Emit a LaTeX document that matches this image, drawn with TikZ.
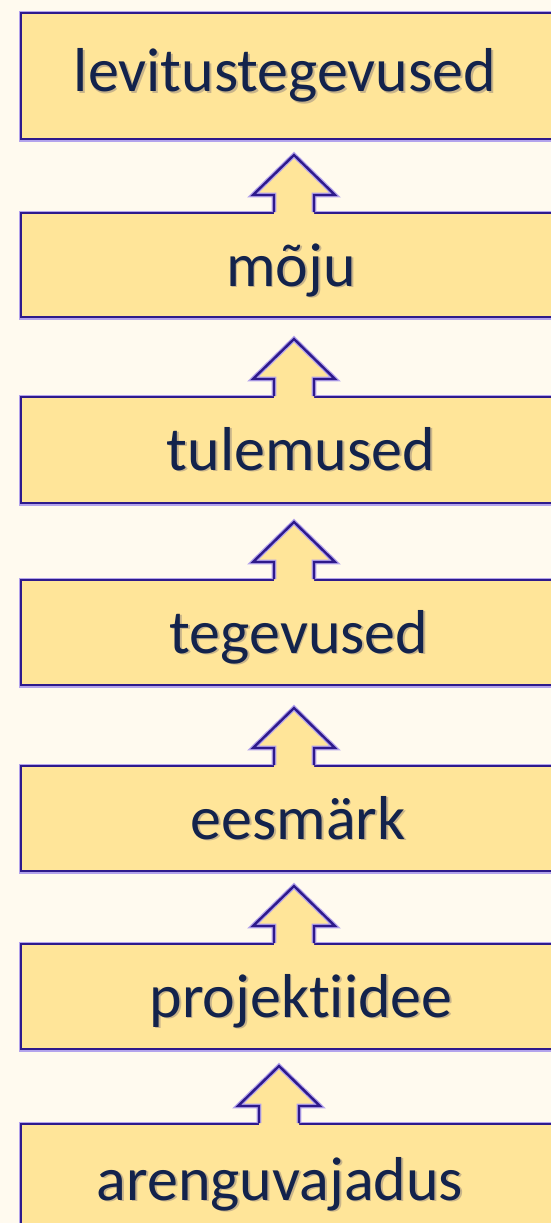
\documentclass[tikz,border=0pt]{standalone}
\usepackage{fontspec}
\setmainfont[RawFeature={-liga;-clig;-dlig}]{Carlito}
\usetikzlibrary{calc}
\definecolor{bg}{HTML}{FFFAEF}
\definecolor{boxfill}{HTML}{FFE599}
\definecolor{boxline}{HTML}{2E1A8C}
\definecolor{glow}{HTML}{B3A3EC}
\definecolor{txt}{HTML}{13234C}
\definecolor{shadowc}{HTML}{C8B48A}
\newcommand{\shtext}[1]{\makebox[0pt][l]{\kern1.8pt\raisebox{-1.8pt}{\color{shadowc}#1}}#1}
\tikzset{
  stepbox/.style={draw=boxline, line width=2.4pt, fill=boxfill, rectangle, inner sep=0pt,
    anchor=north west, minimum width=580pt, preaction={draw=glow, line width=4.8pt}},
  lbl/.style={text=txt, font=\fontsize{62}{70}\selectfont, anchor=base, inner sep=0pt},
  arrline/.style={draw=boxline, line width=2.4pt, line join=miter, preaction={draw=glow, line width=4.8pt}},
}
\newcommand{\blockarrow}[2]{%
  \fill[boxfill] ($(#1.north -| #2)+(-20,3)$) -- ++(0,-20) -- ++(-21,0) -- ++(41,-40) -- ++(41,40) -- ++(-21,0) -- ++(0,20) -- cycle;
  \draw[arrline] ($(#1.north -| #2)+(-20,0)$) -- ++(0,-17) -- ++(-21,0) -- ++(41,-40) -- ++(41,40) -- ++(-21,0) -- ++(0,17);
}
\begin{document}
\begin{tikzpicture}[x=1pt,y=-1pt]
\useasboundingbox (0,0) rectangle (551,1223);
\fill[bg] (0,0) rectangle (551,1223);
\clip (0,0) rectangle (551,1223);
\coordinate (ax) at (294,0);
\coordinate (axb) at (279,0);
\node[stepbox, minimum height=126pt] (b1) at (20,12) {};
\node[stepbox, minimum height=104pt] (b2) at (20,212) {};
\node[stepbox, minimum height=106pt] (b3) at (20,396) {};
\node[stepbox, minimum height=105pt] (b4) at (20,579) {};
\node[stepbox, minimum height=105pt] (b5) at (20,765) {};
\node[stepbox, minimum height=105pt] (b6) at (20,943) {};
\node[stepbox, minimum height=130pt] (b7) at (20,1123) {};
\blockarrow{b2}{ax}
\blockarrow{b3}{ax}
\blockarrow{b4}{ax}
\blockarrow{b5}{ax}
\blockarrow{b6}{ax}
\blockarrow{b7}{axb}
\node[lbl] (t1) at (285,92) {\shtext{levitustegevused}};
\node[lbl] (t2) at (291,286) {\shtext{mõju}};
\node[lbl] (t3) at (301,470) {\shtext{tulemused}};
\node[lbl] (t4) at (299,653) {\shtext{tegevused}};
\node[lbl] (t5) at (298,839) {\shtext{eesmärk}};
\node[lbl] (t6) at (301,1017) {\shtext{projektiidee}};
\node[lbl] (t7) at (280,1200) {\shtext{arenguvajadus}};
\end{tikzpicture}
\end{document}
